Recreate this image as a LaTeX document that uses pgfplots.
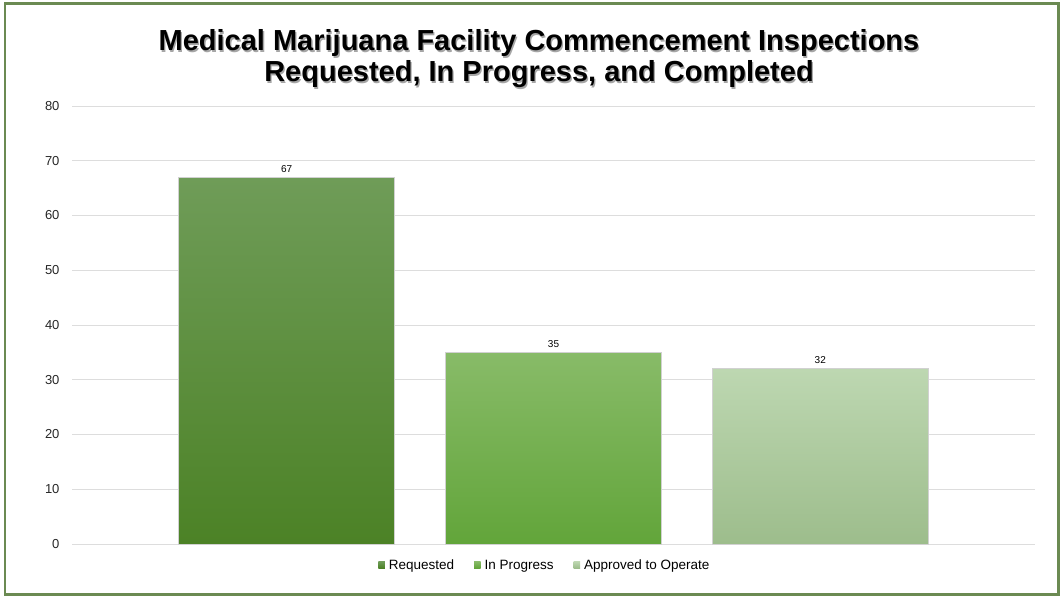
\documentclass[border=0pt]{standalone}
\usepackage{pgfplots}
\pgfplotsset{compat=1.18}
\usepackage{fontspec}
\setmainfont{Liberation Sans}
\definecolor{bordergreen}{HTML}{6B8A52}
\definecolor{aTop}{HTML}{6F9C58}
\definecolor{aBot}{HTML}{4C8226}
\definecolor{bTop}{HTML}{88BB68}
\definecolor{bBot}{HTML}{62A53A}
\definecolor{cTop}{HTML}{BDD7B1}
\definecolor{cBot}{HTML}{9DBD8C}
\definecolor{gridgray}{HTML}{DDDDDD}
\definecolor{txt}{HTML}{262626}
\begin{document}
\begin{tikzpicture}
\path[use as bounding box] (0pt,0pt) rectangle (1062pt,598pt);
\draw[bordergreen, line width=2.5pt] (5pt,3.5pt) rectangle (1058.5pt,594.5pt);
\foreach \dx/\col in {1.3/black!35, 0/black}{
\node[font=\fontsize{29}{31}\selectfont\bfseries, anchor=base, text=\col] at (539pt+\dx pt,547pt-\dx pt) {Medical Marijuana Facility Commencement Inspections};
\node[font=\fontsize{29}{31}\selectfont\bfseries, anchor=base, text=\col] at (539pt+\dx pt,516pt-\dx pt) {Requested, In Progress, and Completed};
}
\begin{axis}[
  at={(72pt,54pt)}, anchor=south west,
  width=963pt, height=438pt, scale only axis,
  xmin=-0.805, xmax=2.805, ymin=0, ymax=80,
  ytick={0,10,...,80}, xtick=\empty,
  axis line style={draw=none},
  major tick length=0pt,
  ymajorgrids, grid style={color=gridgray, line width=0.9pt},
  yticklabel style={font=\fontsize{13}{13}\selectfont, text=txt, xshift=-9pt},
  /pgf/number format/assume math mode=true,
  ybar, bar width=216pt, bar shift=0pt,
  nodes near coords,
  nodes near coords style={font=\fontsize{10}{10}\selectfont, text=black, yshift=1pt},
  legend style={at={(0.491,-0.048)}, anchor=center, draw=none, fill=none,
    legend columns=3, font=\fontsize{13.5}{15}\selectfont,
    /tikz/every even column/.append style={column sep=18pt},
    /tikz/every odd column/.append style={column sep=2pt},
    inner sep=0pt},
  legend image code/.code={\fill[#1, draw=none] (0pt,-3pt) rectangle (6.5pt,3.5pt);},
]
\addplot[top color=aTop, bottom color=aBot, draw=black!18, line width=0.8pt] coordinates {(0,67)};
\addlegendentry{\strut Requested}
\addplot[top color=bTop, bottom color=bBot, draw=black!18, line width=0.8pt] coordinates {(1,35)};
\addlegendentry{\strut In Progress}
\addplot[top color=cTop, bottom color=cBot, draw=black!18, line width=0.8pt] coordinates {(2,32)};
\addlegendentry{\strut Approved to Operate}
\end{axis}
\end{tikzpicture}
\end{document}
